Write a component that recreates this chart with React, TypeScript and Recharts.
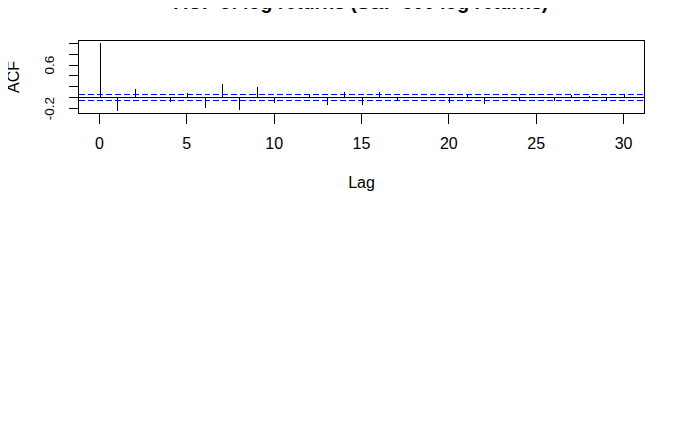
import {
  Bar,
  ComposedChart,
  ReferenceArea,
  ReferenceLine,
  XAxis,
  YAxis,
} from "recharts";

const lags = [
  0, 1, 2, 3, 4, 5, 6, 7, 8, 9, 10, 11, 12, 13, 14, 15, 16, 17, 18, 19, 20,
  21, 22, 23, 24, 25, 26, 27, 28, 29, 30,
];
const acfValues = [
  1, -0.25, 0.165, 0.003, -0.085, 0.09, -0.18, 0.26, -0.22, 0.2, -0.09, 0.02,
  0.055, -0.14, 0.105, -0.14, 0.11, -0.055, 0.003, 0.003, -0.09, 0.075, -0.12,
  0.003, -0.06, 0.003, -0.06, 0.05, 0.025, -0.035, 0.055,
];
const confLimit = 0.059;
const xTicks = [0, 5, 10, 15, 20, 25, 30];
const yTicks = [-0.2, 0, 0.2, 0.4, 0.6, 0.8, 1.0];
// R drops the labels that would overlap, only these survive
const yLabelled = [-0.2, 0.6];

const font = "'Liberation Sans', Arial, sans-serif";

const data = lags.map((lag, i) => ({ lag, acf: acfValues[i] }));

function Spike(props: any) {
  const { x, y, width, height } = props;
  const cx = Math.round(x + width / 2) + 0.5;
  return (
    <line
      x1={cx}
      x2={cx}
      y1={y}
      y2={y + height}
      stroke="#000"
      strokeWidth={1}
      shapeRendering="crispEdges"
    />
  );
}

function XTick(props: any) {
  const { x, y, payload } = props;
  return (
    <text
      x={x}
      y={y + 23.5}
      textAnchor="middle"
      fontSize={16}
      fontFamily={font}
      fill="#000"
    >
      {payload.value}
    </text>
  );
}

function YTick(props: any) {
  const { y, payload } = props;
  const v = Math.round(payload.value * 10) / 10;
  if (!yLabelled.includes(v)) return null;
  const bx = 54;
  return (
    <text
      x={bx}
      y={y}
      transform={`rotate(-90, ${bx}, ${y})`}
      textAnchor="middle"
      fontSize={13.5}
      fontFamily={font}
      fill="#000"
    >
      {v}
    </text>
  );
}

export default function App() {
  return (
    <div style={{ margin: -8, position: "relative", width: 685, height: 423 }}>
      <ComposedChart
        width={685}
        height={423}
        data={data}
        margin={{ top: 40.5, right: 40.5, left: 48.5, bottom: 249.5 }}
      >
        <XAxis
          dataKey="lag"
          type="number"
          domain={[-1.2, 31.2]}
          ticks={xTicks}
          interval={0}
          allowDataOverflow
          axisLine={false}
          tickSize={10}
          tickLine={{ stroke: "#000", shapeRendering: "crispEdges" }}
          tick={<XTick />}
          height={60}
          label={{
            content: () => (
              <text
                x={361.5}
                y={188}
                textAnchor="middle"
                fontSize={16}
                fontFamily={font}
                fill="#000"
              >
                Lag
              </text>
            ),
          }}
        />
        <YAxis
          type="number"
          domain={[-0.29, 1.05]}
          ticks={yTicks}
          interval={0}
          allowDataOverflow
          axisLine={false}
          tickSize={10}
          tickLine={{ stroke: "#000", shapeRendering: "crispEdges" }}
          tick={<YTick />}
          width={30}
          label={{
            content: () => (
              <text
                x={18.5}
                y={77}
                transform="rotate(-90, 18.5, 77)"
                textAnchor="middle"
                fontSize={16}
                fontFamily={font}
                fill="#000"
              >
                ACF
              </text>
            ),
          }}
        />
        <ReferenceArea
          x1={-1.2}
          x2={31.2}
          y1={-0.29}
          y2={1.05}
          fill="none"
          fillOpacity={0}
          stroke="#000"
          strokeWidth={1}
          shapeRendering="crispEdges"
        />
        <ReferenceLine
          y={0}
          stroke="#000"
          strokeWidth={1}
          shapeRendering="crispEdges"
        />
        <ReferenceLine
          y={confLimit}
          stroke="#0000ff"
          strokeDasharray="6 3"
          strokeWidth={1}
          shapeRendering="crispEdges"
        />
        <ReferenceLine
          y={-confLimit}
          stroke="#0000ff"
          strokeDasharray="6 3"
          strokeWidth={1}
          shapeRendering="crispEdges"
        />
        <Bar
          dataKey="acf"
          barSize={2}
          shape={<Spike />}
          isAnimationActive={false}
        />
      </ComposedChart>
      <div
        style={{
          position: "absolute",
          left: 0,
          width: 722,
          top: -9,
          textAlign: "center",
          fontFamily: font,
          fontWeight: "bold",
          fontSize: 19.5,
          lineHeight: "22px",
          whiteSpace: "nowrap",
        }}
      >
        ACF of log returns (S&amp;P 500 log returns)
      </div>
    </div>
  );
}
